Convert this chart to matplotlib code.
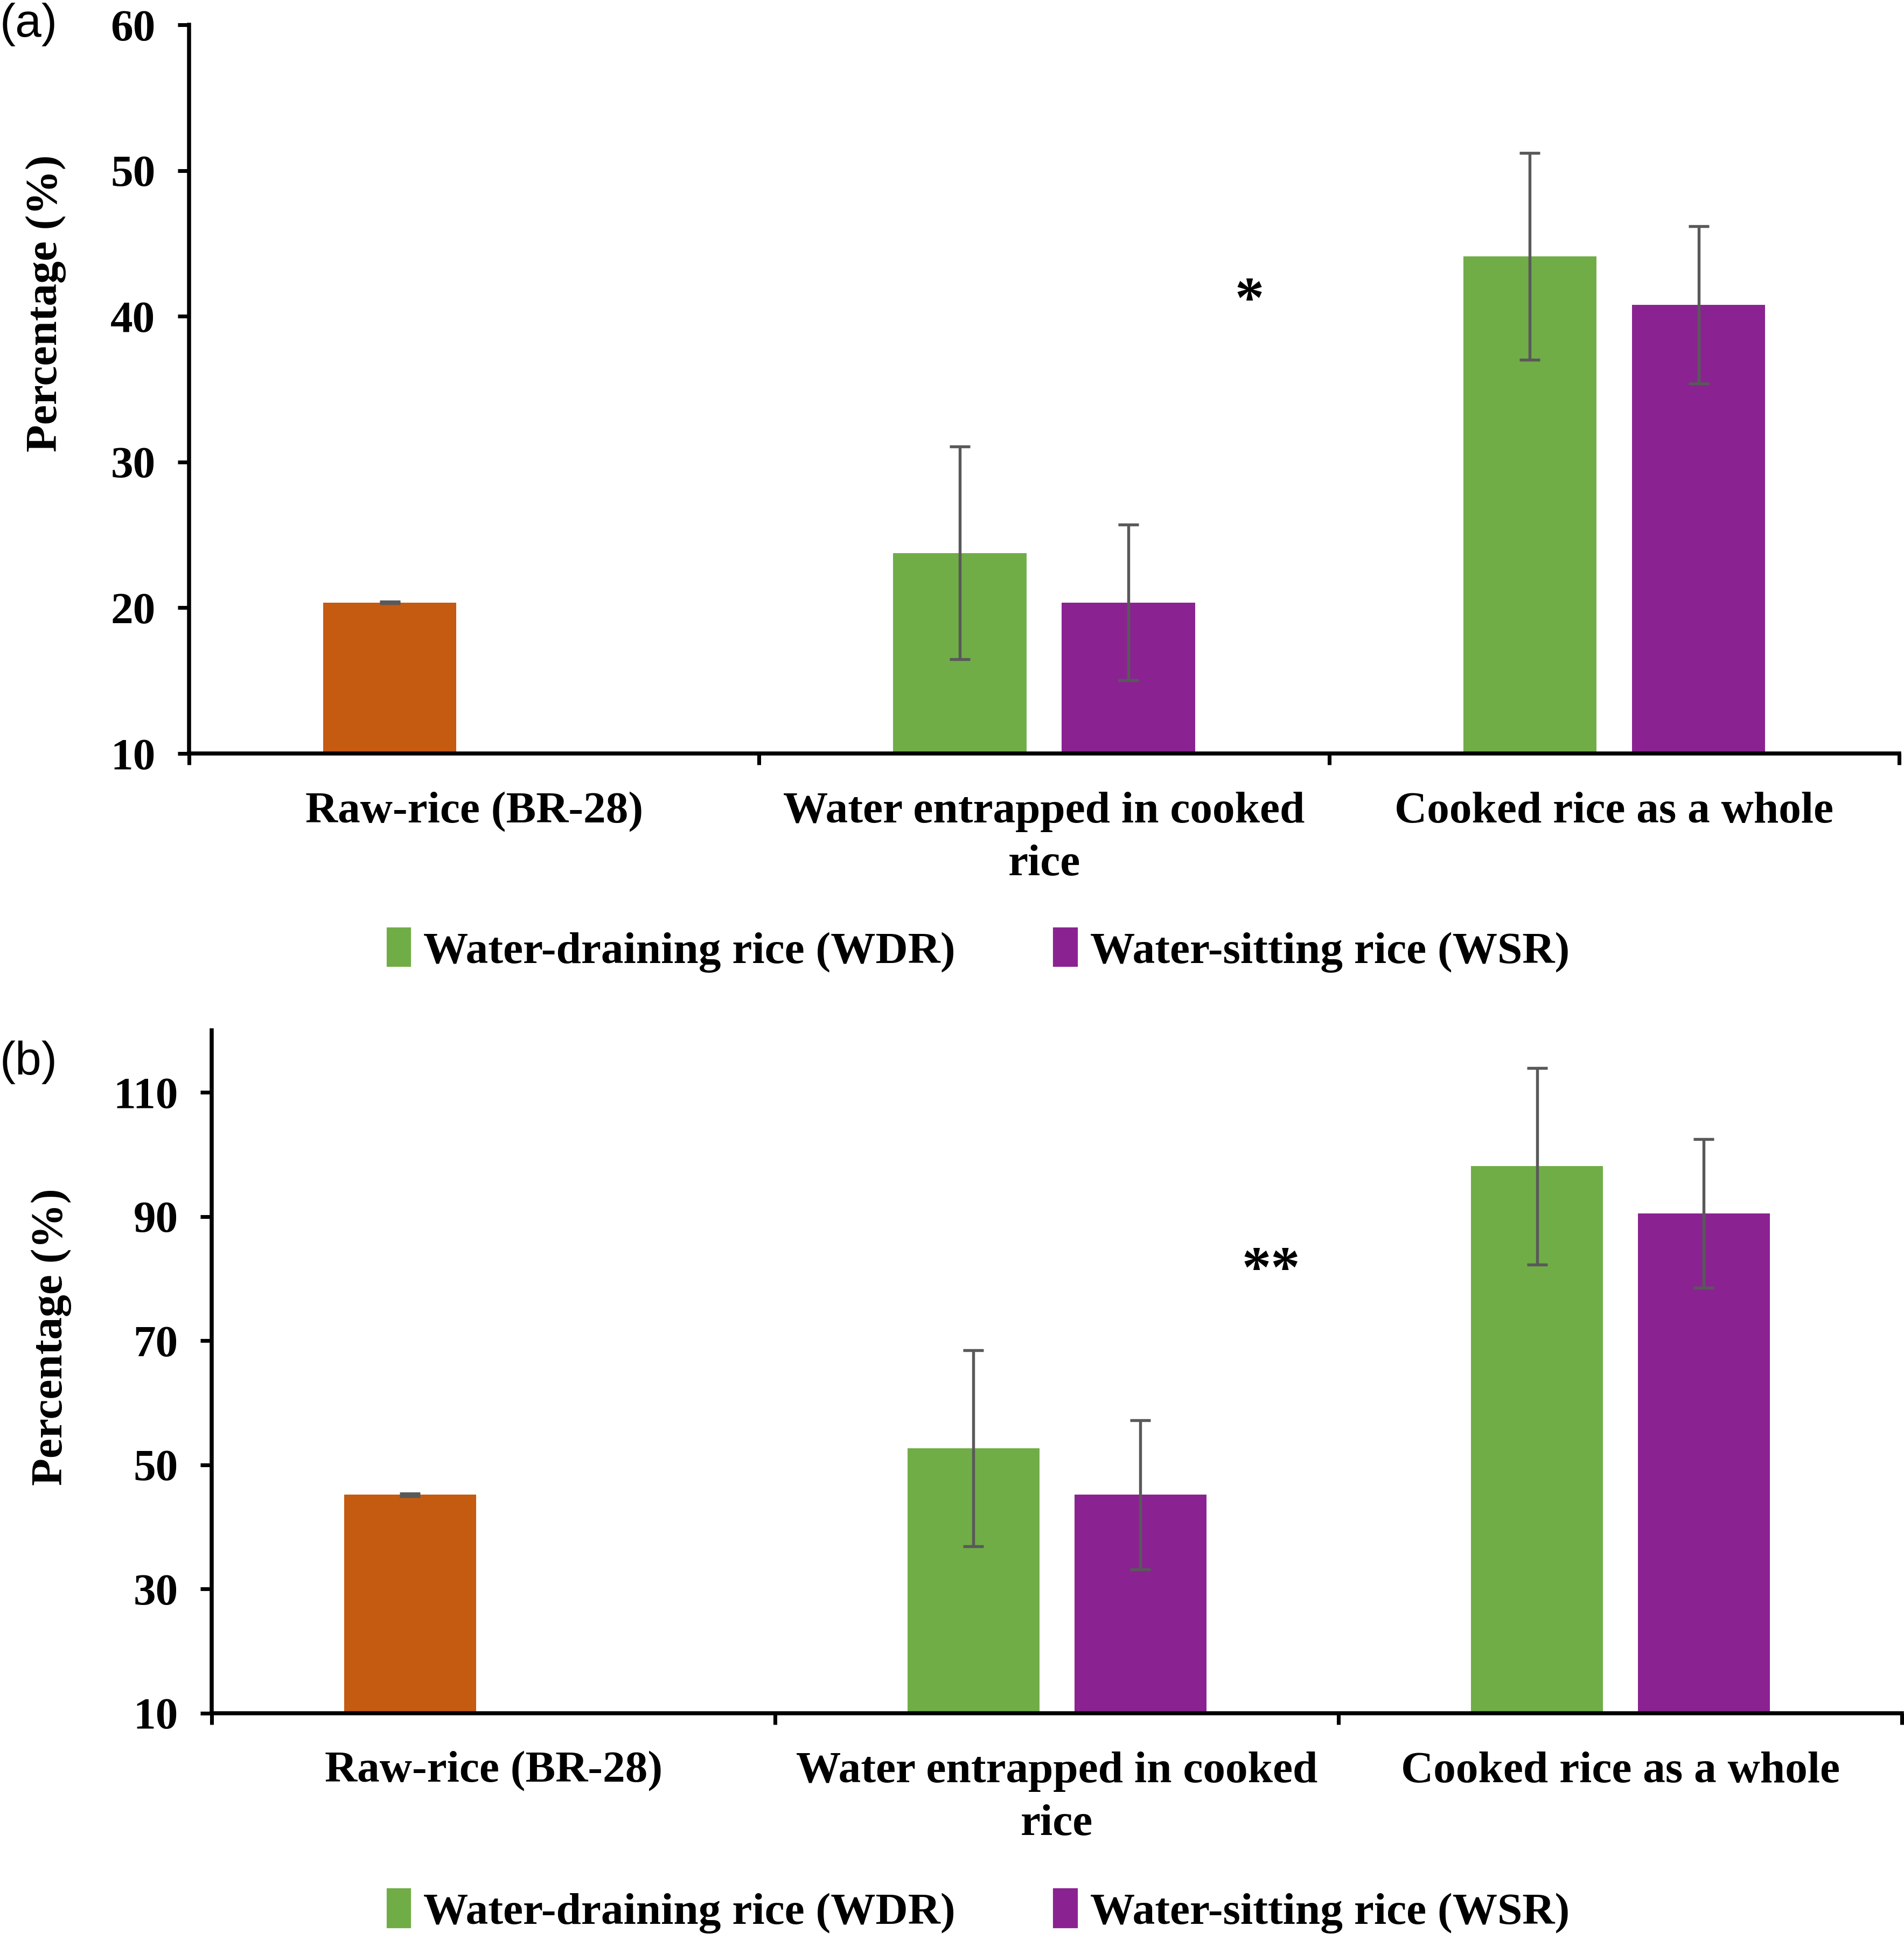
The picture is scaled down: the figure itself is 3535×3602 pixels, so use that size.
import matplotlib
matplotlib.use("Agg")
import matplotlib.pyplot as plt
import numpy as np
from matplotlib.patches import Patch

categories = ["Raw-rice (BR-28)", "Water entrapped in cooked\nrice", "Cooked rice as a whole"]
series_names = ["Water-draining rice (WDR)", "Water-sitting rice (WSR)"]

# Panel (a)
a_raw = 20.36
a_raw_err = 0.05
a_wdr = [23.75, 44.1]
a_wdr_err = [7.3, 7.1]
a_wsr = [20.36, 40.8]
a_wsr_err = [5.35, 5.4]
a_ticks = [10, 20, 30, 40, 50, 60]

# Panel (b)
b_raw = 45.2
b_raw_err = 0.2
b_wdr = [52.7, 98.1]
b_wdr_err = [15.8, 15.8]
b_wsr = [45.2, 90.5]
b_wsr_err = [12.0, 12.0]
b_ticks = [10, 30, 50, 70, 90, 110]

C_RAW = "#C55A11"
C_WDR = "#70AD47"
C_WSR = "#8A2391"
C_ERR = "#595959"

plt.rcParams["font.family"] = ["Liberation Serif", "DejaVu Serif"]
plt.rcParams["font.weight"] = "bold"

fig = plt.figure(figsize=(3535/300, 3602/300), dpi=300)

W = 0.234
OFF = 0.148
FS = 20

def panel(rect, raw, raw_err, wdr, wdr_err, wsr, wsr_err, ticks, ylim, star, star_xy):
    ax = fig.add_axes(rect)
    ekw = dict(ecolor=C_ERR, elinewidth=1.3, capsize=4.5, capthick=1.3)
    ax.bar([0 - OFF], [raw], W, color=C_RAW, yerr=[raw_err], error_kw=ekw, zorder=2)
    xs = np.array([1, 2])
    ax.bar(xs - OFF, wdr, W, color=C_WDR, yerr=wdr_err, error_kw=ekw, zorder=2)
    ax.bar(xs + OFF, wsr, W, color=C_WSR, yerr=wsr_err, error_kw=ekw, zorder=2)
    ax.set_xlim(-0.5, 2.5)
    ax.set_ylim(*ylim)
    ax.set_yticks(ticks)
    ax.set_yticklabels([str(t) for t in ticks], fontsize=FS, fontweight="bold")
    ax.set_xticks([-0.5, 0.5, 1.5, 2.5])
    ax.set_xticklabels([])
    ax.set_xticks([0, 1, 2], minor=True)
    ax.set_xticklabels(categories, minor=True, fontsize=FS, fontweight="bold",
                       linespacing=1.4, va="top")
    ax.tick_params(axis="x", which="minor", length=0, pad=17)
    ax.tick_params(axis="x", which="major", length=5, width=1.7, direction="out")
    ax.tick_params(axis="y", length=5, width=1.7, direction="out", pad=10)
    for s in ["top", "right"]:
        ax.spines[s].set_visible(False)
    for s in ["left", "bottom"]:
        ax.spines[s].set_linewidth(1.8)
    ax.text(star_xy[0], star_xy[1], star, fontsize=26, fontweight="bold",
            ha="center", va="center")
    return ax

ax1 = panel([0.0993, 0.6116, 0.8982, 0.3756], a_raw, a_raw_err, a_wdr, a_wdr_err,
            a_wsr, a_wsr_err, a_ticks, (10, 60), "*", (1.36, 40.9))
ax2 = panel([0.1112, 0.1169, 0.8878, 0.352], b_raw, b_raw_err, b_wdr, b_wdr_err,
            b_wsr, b_wsr_err, b_ticks, (10, 120), "**", (1.38, 81.0))

handles = [Patch(color=C_WDR), Patch(color=C_WSR)]
for y in [0.51, 0.0147]:
    fig.legend(handles, series_names, loc="center", bbox_to_anchor=(0.514, y),
               ncol=2, frameon=False, handlelength=0.5, handleheight=0.9,
               handletextpad=0.3, columnspacing=2.2, prop=dict(weight="bold", size=FS))

fig.text(0.024, 0.8437, "Percentage (%)", rotation=90, fontsize=FS, fontweight="bold",
         ha="center", va="center")
fig.text(0.027, 0.311, "Percentage (%)", rotation=90, fontsize=FS, fontweight="bold",
         ha="center", va="center")

fig.text(0.0, 0.9985, "(a)", fontsize=21, family=["Liberation Sans", "DejaVu Sans"],
         fontweight="normal", ha="left", va="top")
fig.text(0.0, 0.4635, "(b)", fontsize=21, family=["Liberation Sans", "DejaVu Sans"],
         fontweight="normal", ha="left", va="top")

fig.savefig("out.png", dpi=300)
